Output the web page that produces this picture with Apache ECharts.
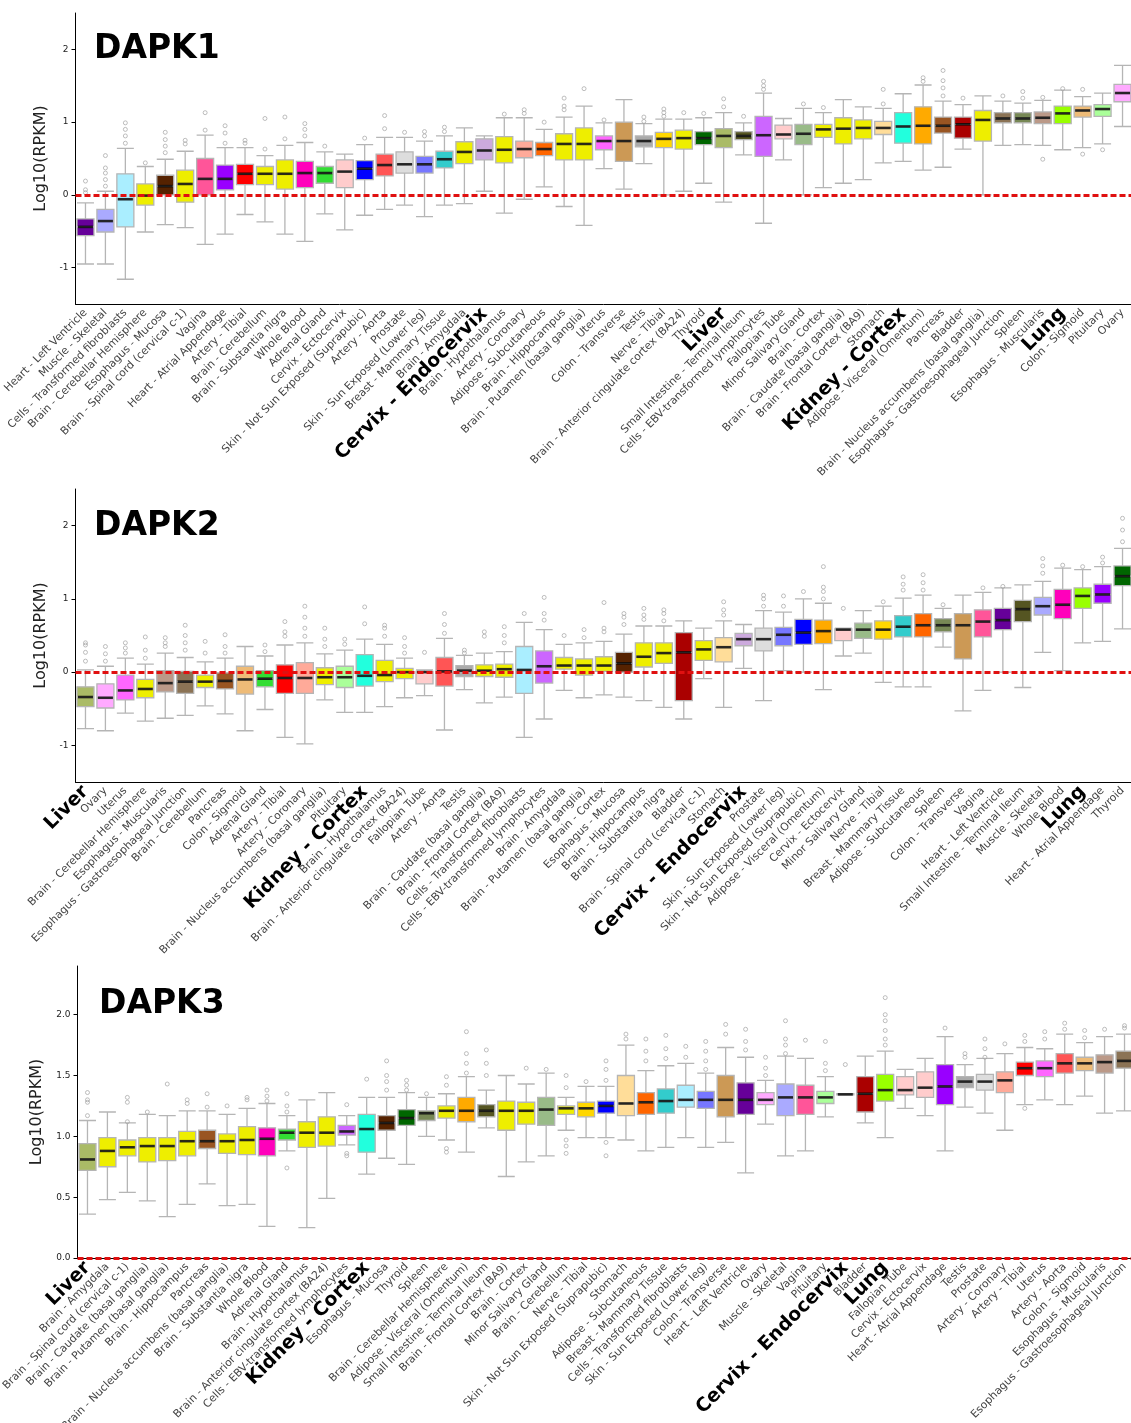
<!DOCTYPE html>
<html><head><meta charset="utf-8">
<script src="https://cdn.jsdelivr.net/npm/echarts@6/dist/echarts.min.js"></script>
<style>html,body{margin:0;padding:0;background:#fff}#c{width:1131px;height:1423px}</style>
</head><body><div id="c"></div>
<script>
// ---------------- DATA ----------------
const dapk1Tissues = ['Heart - Left Ventricle','Muscle - Skeletal','Cells - Transformed fibroblasts','Brain - Cerebellar Hemisphere','Esophagus - Mucosa','Brain - Spinal cord (cervical c-1)','Vagina','Heart - Atrial Appendage','Artery - Tibial','Brain - Cerebellum','Brain - Substantia nigra','Whole Blood','Adrenal Gland','Cervix - Ectocervix','Skin - Not Sun Exposed (Suprapubic)','Artery - Aorta','Prostate','Skin - Sun Exposed (Lower leg)','Breast - Mammary Tissue','Brain - Amygdala','Cervix - Endocervix','Brain - Hypothalamus','Artery - Coronary','Adipose - Subcutaneous','Brain - Hippocampus','Brain - Putamen (basal ganglia)','Uterus','Colon - Transverse','Testis','Nerve - Tibial','Brain - Anterior cingulate cortex (BA24)','Thyroid','Liver','Small Intestine - Terminal Ileum','Cells - EBV-transformed lymphocytes','Fallopian Tube','Minor Salivary Gland','Brain - Cortex','Brain - Caudate (basal ganglia)','Brain - Frontal Cortex (BA9)','Stomach','Kidney - Cortex','Adipose - Visceral (Omentum)','Pancreas','Bladder','Brain - Nucleus accumbens (basal ganglia)','Esophagus - Gastroesophageal Junction','Spleen','Esophagus - Muscularis','Lung','Colon - Sigmoid','Pituitary','Ovary'];
const dapk1Min = [-0.95,-0.95,-1.16,-0.51,-0.41,-0.45,-0.68,-0.54,-0.27,-0.37,-0.54,-0.64,-0.26,-0.48,-0.28,-0.20,-0.14,-0.30,-0.14,-0.12,0.05,-0.25,-0.06,0.11,-0.16,-0.42,0.36,0.08,0.43,0.00,0.05,0.16,-0.10,0.55,-0.39,0.48,0.00,0.10,0.16,0.21,0.44,0.46,0.34,0.38,0.63,0.00,0.68,0.69,0.68,0.62,0.65,0.70,0.94];
const dapk1Q1 = [-0.56,-0.51,-0.44,-0.14,0.00,-0.10,0.00,0.07,0.14,0.14,0.08,0.10,0.16,0.10,0.21,0.26,0.30,0.30,0.37,0.43,0.48,0.44,0.51,0.54,0.48,0.48,0.62,0.46,0.66,0.65,0.63,0.69,0.65,0.76,0.53,0.77,0.69,0.79,0.70,0.77,0.83,0.71,0.70,0.85,0.78,0.74,0.99,0.99,0.98,0.98,1.07,1.08,1.28];
const dapk1Med = [-0.44,-0.36,-0.06,-0.01,0.12,0.15,0.22,0.22,0.29,0.29,0.29,0.30,0.30,0.32,0.36,0.41,0.42,0.42,0.49,0.59,0.61,0.62,0.63,0.63,0.70,0.70,0.74,0.74,0.74,0.77,0.78,0.78,0.81,0.81,0.82,0.83,0.84,0.90,0.91,0.92,0.92,0.94,0.95,0.95,0.97,1.03,1.05,1.05,1.06,1.12,1.16,1.18,1.40];
const dapk1Q3 = [-0.33,-0.20,0.29,0.15,0.27,0.34,0.50,0.41,0.42,0.39,0.48,0.46,0.39,0.48,0.47,0.56,0.59,0.53,0.60,0.73,0.77,0.80,0.74,0.72,0.84,0.92,0.81,1.00,0.81,0.86,0.89,0.87,0.91,0.87,1.08,0.96,0.97,0.97,1.06,1.03,1.01,1.13,1.21,1.07,1.07,1.16,1.13,1.13,1.14,1.22,1.22,1.24,1.52];
const dapk1Max = [-0.11,0.05,0.64,0.39,0.49,0.60,0.82,0.65,0.65,0.54,0.68,0.72,0.59,0.56,0.69,0.79,0.79,0.74,0.81,0.92,0.81,1.06,1.06,0.90,1.07,1.22,0.99,1.31,0.98,1.04,1.04,1.06,1.13,0.99,1.40,1.05,1.19,1.13,1.31,1.21,1.19,1.39,1.51,1.29,1.24,1.36,1.29,1.26,1.30,1.44,1.35,1.40,1.78];
const dapk1Out = [[0.03,0.07,0.19],[0.12,0.21,0.30,0.37,0.54],[0.71,0.81,0.90,0.99],[0.44],[0.58,0.67,0.76,0.86],[0.70,0.75],[0.89,1.13],[0.71,0.85,0.95],[0.71,0.75],[0.63,1.05],[0.77,1.07],[0.81,0.90,0.98],[0.67],[],[0.78],[0.91,1.09],[0.86],[0.81,0.87],[0.87,0.93],[],[],[1.11],[1.12,1.17],[1.00],[1.17,1.22,1.33],[1.46],[1.03],[],[1.01,1.07],[1.08,1.13,1.18],[1.13],[1.12],[1.21,1.32],[1.08],[1.45,1.50,1.56],[],[1.25],[1.20],[],[],[1.25,1.45],[],[1.56,1.61],[1.36,1.47,1.57,1.71],[1.33],[],[1.36],[1.33,1.42],[0.49,1.34],[1.46],[1.45,0.56],[0.62],[]];

const dapk2Tissues = ['Liver','Ovary','Uterus','Brain - Cerebellar Hemisphere','Esophagus - Muscularis','Esophagus - Gastroesophageal Junction','Brain - Cerebellum','Pancreas','Colon - Sigmoid','Adrenal Gland','Artery - Tibial','Artery - Coronary','Brain - Nucleus accumbens (basal ganglia)','Pituitary','Kidney - Cortex','Brain - Hypothalamus','Brain - Anterior cingulate cortex (BA24)','Fallopian Tube','Artery - Aorta','Testis','Brain - Caudate (basal ganglia)','Brain - Frontal Cortex (BA9)','Cells - Transformed fibroblasts','Cells - EBV-transformed lymphocytes','Brain - Amygdala','Brain - Putamen (basal ganglia)','Brain - Cortex','Esophagus - Mucosa','Brain - Hippocampus','Brain - Substantia nigra','Bladder','Brain - Spinal cord (cervical c-1)','Stomach','Cervix - Endocervix','Prostate','Skin - Sun Exposed (Lower leg)','Skin - Not Sun Exposed (Suprapubic)','Adipose - Visceral (Omentum)','Cervix - Ectocervix','Minor Salivary Gland','Nerve - Tibial','Breast - Mammary Tissue','Adipose - Subcutaneous','Spleen','Colon - Transverse','Vagina','Heart - Left Ventricle','Small Intestine - Terminal Ileum','Muscle - Skeletal','Whole Blood','Lung','Heart - Atrial Appendage','Thyroid'];
const dapk2Min = [-0.77,-0.80,-0.56,-0.67,-0.63,-0.59,-0.46,-0.57,-0.80,-0.51,-0.89,-0.98,-0.38,-0.55,-0.55,-0.47,-0.35,-0.32,-0.79,-0.24,-0.42,-0.34,-0.89,-0.64,-0.25,-0.35,-0.31,-0.34,-0.39,-0.48,-0.64,-0.09,-0.48,0.05,-0.39,0.02,0.00,-0.24,0.22,0.26,-0.14,-0.20,-0.20,0.34,-0.53,-0.25,0.00,-0.21,0.27,0.02,0.40,0.42,0.59];
const dapk2Q1 = [-0.47,-0.49,-0.38,-0.35,-0.27,-0.29,-0.21,-0.23,-0.30,-0.20,-0.29,-0.29,-0.17,-0.21,-0.19,-0.13,-0.09,-0.16,-0.19,-0.06,-0.06,-0.07,-0.29,-0.15,0.04,-0.04,0.01,0.00,0.07,0.12,-0.39,0.16,0.14,0.36,0.29,0.36,0.38,0.39,0.43,0.46,0.45,0.48,0.48,0.55,0.18,0.48,0.58,0.69,0.78,0.73,0.87,0.94,1.18];
const dapk2Med = [-0.34,-0.35,-0.25,-0.23,-0.15,-0.13,-0.13,-0.12,-0.10,-0.09,-0.08,-0.08,-0.07,-0.07,-0.05,-0.04,0.00,0.00,0.01,0.02,0.02,0.04,0.03,0.08,0.09,0.09,0.09,0.12,0.21,0.26,0.27,0.31,0.34,0.45,0.45,0.51,0.54,0.56,0.58,0.58,0.58,0.62,0.64,0.64,0.64,0.69,0.71,0.86,0.90,0.92,1.04,1.06,1.31];
const dapk2Q3 = [-0.20,-0.16,-0.04,-0.10,0.02,0.01,-0.04,-0.01,0.08,0.02,0.10,0.13,0.06,0.08,0.24,0.16,0.05,0.01,0.20,0.09,0.10,0.11,0.35,0.29,0.20,0.18,0.21,0.27,0.40,0.40,0.54,0.43,0.47,0.53,0.60,0.61,0.72,0.71,0.59,0.67,0.70,0.77,0.80,0.73,0.80,0.85,0.87,0.98,1.02,1.13,1.15,1.20,1.45];
const dapk2Max = [0.03,0.08,0.19,0.11,0.26,0.20,0.14,0.19,0.35,0.22,0.37,0.40,0.25,0.30,0.45,0.38,0.19,0.03,0.46,0.23,0.26,0.28,0.68,0.58,0.38,0.40,0.42,0.52,0.63,0.63,0.70,0.60,0.70,0.65,0.84,0.82,1.00,0.94,0.60,0.84,0.90,1.01,1.05,0.87,1.05,1.09,1.15,1.19,1.24,1.42,1.40,1.44,1.69];
const dapk2Out = [[0.15,0.27,0.37,0.40],[0.15,0.25,0.35],[0.26,0.33,0.40],[0.19,0.30,0.48],[0.35,0.40,0.47],[0.30,0.40,0.50,0.64],[0.26,0.42],[0.26,0.35,0.51],[],[0.28,0.37],[0.49,0.55,0.69],[0.49,0.60,0.75,0.90],[0.35,0.45,0.60],[0.38,0.45],[0.66,0.89],[0.49,0.60,0.64],[0.26,0.35,0.47],[0.27],[0.53,0.65,0.80],[0.26,0.30],[0.49,0.55],[0.40,0.50,0.62],[0.80],[0.71,0.80,1.02],[0.50],[0.47,0.58],[0.55,0.60,0.95],[0.65,0.75,0.80],[0.72,0.78,0.87],[0.70,0.80,0.85],[],[],[0.78,0.85,0.96],[],[0.90,1.00,1.05],[0.90,1.04],[1.10],[1.00,1.10,1.16,1.44],[0.87],[],[0.96],[1.12,1.20,1.30],[1.12,1.22,1.33],[0.92],[],[1.15],[1.17],[],[1.35,1.45,1.55],[1.46],[1.44],[1.49,1.57],[1.78,1.94,2.10]];

const dapk3Tissues = ['Liver','Brain - Amygdala','Brain - Spinal cord (cervical c-1)','Brain - Caudate (basal ganglia)','Brain - Putamen (basal ganglia)','Brain - Hippocampus','Pancreas','Brain - Nucleus accumbens (basal ganglia)','Brain - Substantia nigra','Whole Blood','Adrenal Gland','Brain - Hypothalamus','Brain - Anterior cingulate cortex (BA24)','Cells - EBV-transformed lymphocytes','Kidney - Cortex','Esophagus - Mucosa','Thyroid','Spleen','Brain - Cerebellar Hemisphere','Adipose - Visceral (Omentum)','Small Intestine - Terminal Ileum','Brain - Frontal Cortex (BA9)','Brain - Cortex','Minor Salivary Gland','Brain - Cerebellum','Nerve - Tibial','Skin - Not Sun Exposed (Suprapubic)','Stomach','Adipose - Subcutaneous','Breast - Mammary Tissue','Cells - Transformed fibroblasts','Skin - Sun Exposed (Lower leg)','Colon - Transverse','Heart - Left Ventricle','Ovary','Muscle - Skeletal','Vagina','Pituitary','Cervix - Endocervix','Bladder','Lung','Fallopian Tube','Cervix - Ectocervix','Heart - Atrial Appendage','Testis','Prostate','Artery - Coronary','Artery - Tibial','Uterus','Artery - Aorta','Colon - Sigmoid','Esophagus - Muscularis','Esophagus - Gastroesophageal Junction'];
const dapk3Min = [0.36,0.48,0.54,0.47,0.34,0.44,0.61,0.43,0.44,0.26,0.88,0.25,0.49,0.93,0.69,0.82,0.77,1.00,0.97,0.87,1.07,0.67,0.79,0.84,1.05,0.99,0.99,0.97,0.88,0.91,0.99,0.91,0.95,0.70,1.10,0.84,0.88,1.16,1.34,1.11,0.99,1.23,1.17,0.88,1.24,1.19,1.05,1.26,1.30,1.26,1.33,1.19,1.21];
const dapk3Q1 = [0.72,0.75,0.84,0.79,0.80,0.84,0.90,0.86,0.85,0.84,0.97,0.91,0.92,1.01,0.87,1.05,1.09,1.13,1.15,1.12,1.16,1.05,1.10,1.09,1.18,1.16,1.19,1.17,1.18,1.19,1.24,1.23,1.16,1.18,1.26,1.17,1.18,1.27,1.34,1.20,1.29,1.34,1.32,1.26,1.40,1.38,1.36,1.50,1.49,1.52,1.54,1.52,1.56];
const dapk3Med = [0.81,0.88,0.91,0.92,0.92,0.96,0.96,0.96,0.97,0.98,1.03,1.03,1.03,1.04,1.06,1.11,1.15,1.19,1.21,1.21,1.21,1.21,1.21,1.22,1.23,1.23,1.25,1.27,1.28,1.29,1.30,1.30,1.30,1.30,1.30,1.32,1.32,1.32,1.345,1.35,1.38,1.38,1.40,1.41,1.45,1.45,1.46,1.56,1.56,1.60,1.60,1.61,1.62];
const dapk3Q3 = [0.94,0.99,0.97,0.99,0.99,1.04,1.05,1.02,1.08,1.07,1.06,1.12,1.16,1.09,1.18,1.17,1.22,1.21,1.25,1.32,1.26,1.29,1.28,1.32,1.25,1.28,1.29,1.50,1.36,1.39,1.42,1.37,1.50,1.44,1.36,1.43,1.42,1.37,1.35,1.49,1.51,1.49,1.53,1.59,1.49,1.51,1.53,1.61,1.62,1.68,1.65,1.67,1.70];
const dapk3Max = [1.13,1.20,1.11,1.18,1.17,1.21,1.21,1.18,1.23,1.27,1.17,1.30,1.36,1.17,1.32,1.32,1.36,1.32,1.35,1.49,1.38,1.50,1.43,1.52,1.32,1.41,1.41,1.75,1.54,1.58,1.60,1.52,1.73,1.65,1.46,1.66,1.64,1.49,1.35,1.66,1.70,1.55,1.64,1.82,1.59,1.64,1.68,1.73,1.72,1.84,1.77,1.82,1.84];
const dapk3Out = [[1.17,1.28,1.30,1.36],[],[1.12,1.28,1.32],[1.20],[1.43],[1.27,1.30],[1.24,1.35],[1.25],[1.30,1.32],[1.29,1.33,1.38],[1.20,1.25,1.35,0.74],[],[],[1.26,0.84,0.86],[1.47],[1.38,1.45,1.50,1.62],[1.38,1.42,1.46],[1.35],[1.42,1.49,0.90,0.87],[1.52,1.60,1.68,1.86],[1.50,1.60,1.71],[],[1.56],[1.55],[1.40,1.50,0.97,0.92,0.86],[1.45],[1.46,1.55,1.62,0.95,0.84],[1.80,1.84],[1.62,1.70,1.80],[1.64,1.72,1.83],[1.65,1.74],[1.55,1.62,1.70,1.78],[1.84,1.92],[1.71,1.78,1.88],[1.50,1.56,1.65],[1.68,1.75,1.80,1.95],[1.79],[1.54,1.60,1.78],[1.59],[],[1.75,1.80,1.87,1.95,2.00,2.14],[],[],[1.89],[1.65,1.68],[1.65,1.72,1.80],[1.76],[1.78,1.83,1.23],[1.80,1.86],[1.88,1.93],[1.81,1.87],[1.88],[1.89,1.91]];

const geneTitles = ['DAPK1','DAPK2','DAPK3'];
const tickValues12 = [-1, 0, 1, 2];
const tickValues3 = [0, 0.5, 1, 1.5, 2];
const boldTissues = ['Liver','Kidney - Cortex','Cervix - Endocervix','Lung'];

// ---------------- STYLES ----------------
const tissueColors = {
 'Adipose - Subcutaneous':'#FF6600','Adipose - Visceral (Omentum)':'#FFAA00','Adrenal Gland':'#33DD33',
 'Artery - Aorta':'#FF5555','Artery - Coronary':'#FFAA99','Artery - Tibial':'#FF0000','Bladder':'#AA0000',
 'Breast - Mammary Tissue':'#33CCCC','Cells - EBV-transformed lymphocytes':'#CC66FF','Cells - Transformed fibroblasts':'#AAEEFF',
 'Cervix - Ectocervix':'#FFCCCC','Cervix - Endocervix':'#CCAADD','Colon - Sigmoid':'#EEBB77','Colon - Transverse':'#CC9955',
 'Esophagus - Gastroesophageal Junction':'#8B7355','Esophagus - Mucosa':'#552200','Esophagus - Muscularis':'#BB9988',
 'Fallopian Tube':'#FFCCCC','Heart - Atrial Appendage':'#9900FF','Heart - Left Ventricle':'#660099','Kidney - Cortex':'#22FFDD',
 'Liver':'#AABB66','Lung':'#99FF00','Minor Salivary Gland':'#99BB88','Muscle - Skeletal':'#AAAAFF','Nerve - Tibial':'#FFD700',
 'Ovary':'#FFAAFF','Pancreas':'#995522','Pituitary':'#AAFF99','Prostate':'#DDDDDD','Skin - Not Sun Exposed (Suprapubic)':'#0000FF',
 'Skin - Sun Exposed (Lower leg)':'#7777FF','Small Intestine - Terminal Ileum':'#555522','Spleen':'#778855','Stomach':'#FFDD99',
 'Testis':'#AAAAAA','Thyroid':'#006600','Uterus':'#FF66FF','Vagina':'#FF5599','Whole Blood':'#FF00BB'
};
function colorOf(t){ return t.indexOf('Brain') === 0 ? '#EEEE00' : tissueColors[t]; }

const FONT = 'DejaVu Sans';
const grids = [
  {left: 75.5, top: 13, width: 1057, height: 291},
  {left: 75.5, top: 489, width: 1057, height: 293},
  {left: 77.5, top: 966, width: 1057, height: 292}
];
const titlePos = [{left: 94, top: 33}, {left: 94, top: 510}, {left: 99, top: 988}];
const yRanges = [[-1.5, 2.5], [-1.5, 2.5], [0, 2.4]];

const panels = [
  {t: dapk1Tissues, mn: dapk1Min, q1: dapk1Q1, md: dapk1Med, q3: dapk1Q3, mx: dapk1Max, out: dapk1Out, ticks: tickValues12, fmt: v => String(v)},
  {t: dapk2Tissues, mn: dapk2Min, q1: dapk2Q1, md: dapk2Med, q3: dapk2Q3, mx: dapk2Max, out: dapk2Out, ticks: tickValues12, fmt: v => String(v)},
  {t: dapk3Tissues, mn: dapk3Min, q1: dapk3Q1, md: dapk3Med, q3: dapk3Q3, mx: dapk3Max, out: dapk3Out, ticks: tickValues3, fmt: v => Number(v).toFixed(1)}
];

const option = {
  animation: false,
  backgroundColor: '#fff',
  title: geneTitles.map((g, i) => ({
    text: g, left: titlePos[i].left, top: titlePos[i].top, padding: 0,
    textStyle: {fontSize: 33, fontWeight: 'bold', fontFamily: FONT, color: '#000'}
  })),
  grid: grids.map(g => Object.assign({containLabel: false, outerBoundsMode: 'none'}, g)),
  xAxis: panels.map((p, i) => ({
    gridIndex: i, type: 'category', data: p.t, boundaryGap: true,
    axisLine: {onZero: false, lineStyle: {color: '#000', width: 1}},
    axisTick: {alignWithLabel: true, length: 4, lineStyle: {color: '#000'}},
    axisLabel: {
      rotate: 45, interval: 0, margin: 7, fontSize: 10.8, fontFamily: FONT, color: '#444', hideOverlap: false,
      formatter: v => boldTissues.indexOf(v) >= 0 ? '{b|' + v + '}' : v,
      rich: {b: {fontSize: 19, fontWeight: 'bold', fontFamily: FONT, color: '#000'}}
    },
    splitLine: {show: false}
  })),
  yAxis: panels.map((p, i) => ({
    gridIndex: i, type: 'value', min: yRanges[i][0], max: yRanges[i][1],
    name: 'Log10(RPKM)', nameLocation: 'middle', nameGap: 21,
    nameTextStyle: {fontSize: 16, fontFamily: FONT, color: '#222'},
    axisLine: {show: true, lineStyle: {color: '#000', width: 1}},
    axisTick: {show: true, length: 4, customValues: p.ticks, lineStyle: {color: '#000'}},
    axisLabel: {customValues: p.ticks, fontSize: 9, fontFamily: FONT, color: '#222', margin: 7, formatter: p.fmt},
    splitLine: {show: false}
  })),
  series: []
};

panels.forEach((p, i) => {
  option.series.push({
    type: 'boxplot', xAxisIndex: i, yAxisIndex: i, silent: true,
    boxWidth: [17, 17],
    itemStyle: {borderColor: '#b5b5b5', borderWidth: 1.3},
    data: p.t.map((t, k) => ({value: [p.mn[k], p.q1[k], p.md[k], p.q3[k], p.mx[k]], itemStyle: {color: colorOf(t)}})),
    markLine: {
      silent: true, symbol: ['none', 'none'], label: {show: false},
      lineStyle: {color: '#e01010', type: [6, 3], width: 3},
      data: [{yAxis: 0}]
    },
    z: 2
  });
  const outs = [];
  p.out.forEach((arr, k) => arr.forEach(v => outs.push([k, v])));
  option.series.push({
    type: 'scatter', xAxisIndex: i, yAxisIndex: i, silent: true,
    symbol: 'circle', symbolSize: 4,
    itemStyle: {color: 'rgba(255,255,255,0)', borderColor: '#a5a5a5', borderWidth: 0.9},
    data: outs, z: 3
  });
  option.series.push({
    type: 'scatter', xAxisIndex: i, yAxisIndex: i, silent: true,
    symbol: 'rect', symbolSize: [15, 2.6],
    itemStyle: {color: '#000'},
    data: p.md.map((m, k) => [k, m]), z: 4
  });
});

const chart = echarts.init(document.getElementById('c'), null, {renderer: 'canvas'});
chart.setOption(option);
</script>
</body></html>
